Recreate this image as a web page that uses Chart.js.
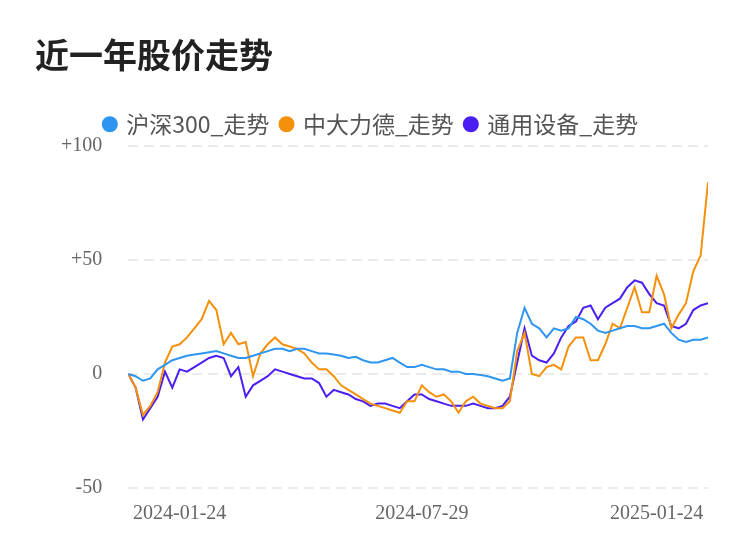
<!DOCTYPE html>
<html><head><meta charset="utf-8">
<script src="https://cdn.jsdelivr.net/npm/chart.js@4"></script>
<style>html,body{margin:0;padding:0;background:#fff}#w{width:750px;height:558px}</style>
</head><body><div id="w"><canvas id="c"></canvas></div>
<script>
const seriesNames = ['沪深300_走势','中大力德_走势','通用设备_走势'];
const hs300 = [0,-1,-3,-2,2,4,6,7,8,8.5,9,9.5,10,9,8,7,7,8,9,10,11,11,10,11,11,10,9,9,8.5,8,7,7.5,6,5,5,6,7,5,3,3,4,3,2,2,1,1,0,0,-0.5,-1,-2,-3,-2,18,29,22,20,16,20,19,20,25,24,22,19,18,19,20,21,21,20,20,21,22,18,15,14,15,15,16];
const zdld = [0,-6,-18,-14,-8,5,12,13,16,20,24,32,28,13,18,13,14,-1,9,13,16,13,12,11,9,5,2,2,-1,-5,-7,-9,-11,-13,-14,-15,-16,-17,-12,-12,-5,-8,-10,-9,-12,-17,-12,-10,-13,-14,-15,-15,-12,10,18,0,-1,3,4,2,12,16,16,6,6,13,22,20,29,38,27,27,43,35,20,26,31,45,52,84];
const tysb = [0,-6,-20,-15,-10,1,-6,2,1,3,5,7,8,7,-1,3,-10,-5,-3,-1,2,1,0,-1,-2,-2,-4,-10,-7,-8,-9,-11,-12,-14,-13,-13,-14,-15,-12,-9,-9,-11,-12,-13,-14,-14,-14,-13,-14,-15,-15,-14,-10,5,20,8,6,5,9,16,21,23,29,30,24,29,31,33,38,41,40,35,31,30,21,20,22,28,30,31];
const tickLabels = ['2024-01-24','2024-07-29','2025-01-24'];
const tickPositions = [7,40,72];
const yTicks = [-50,0,50,100];
const colors = ['#2e96f0','#f5900a','#4a1ff0'];
const all=[hs300,zdld,tysb];
new Chart(document.getElementById('c'),{
 type:'line',
 data:{datasets:all.map((d,k)=>({label:seriesNames[k],data:d.map((v,i)=>({x:i,y:v})),borderColor:colors[k],backgroundColor:colors[k],borderWidth:2,pointRadius:0,tension:0}))},
 options:{responsive:true,maintainAspectRatio:false,animation:false,
  layout:{padding:{left:35,right:42,top:35,bottom:26}},
  plugins:{
   title:{display:true,text:'近一年股价走势',align:'start',color:'#222',font:{size:34,weight:'bold',family:'Noto Sans CJK SC'},padding:{top:0,bottom:25}},
   legend:{labels:{usePointStyle:true,pointStyle:'circle',boxWidth:10,boxHeight:10,color:'#555',font:{size:23,family:'Noto Sans CJK SC'},padding:12},padding:{bottom:124}},
   tooltip:{enabled:false}},
  scales:{
   x:{type:'linear',min:0,max:all[0].length-1,
    afterBuildTicks:a=>{a.ticks=tickPositions.map(v=>({value:v}));},
    ticks:{callback:(v)=>tickLabels[tickPositions.indexOf(v)],color:'#666',font:{size:20,family:'Liberation Serif'},maxRotation:0,padding:6},
    grid:{display:false},border:{display:false}},
   y:{min:-50,max:100,afterBuildTicks:a=>{a.ticks=yTicks.map(v=>({value:v}));},
    ticks:{callback:v=>v>0?'+'+v:String(v),color:'#666',font:{size:20,family:'Liberation Serif'},padding:26},
    grid:{color:'#ebebeb',lineWidth:2,drawTicks:false},border:{display:false,dash:[10,6]}}
  }}
});
</script></body></html>
